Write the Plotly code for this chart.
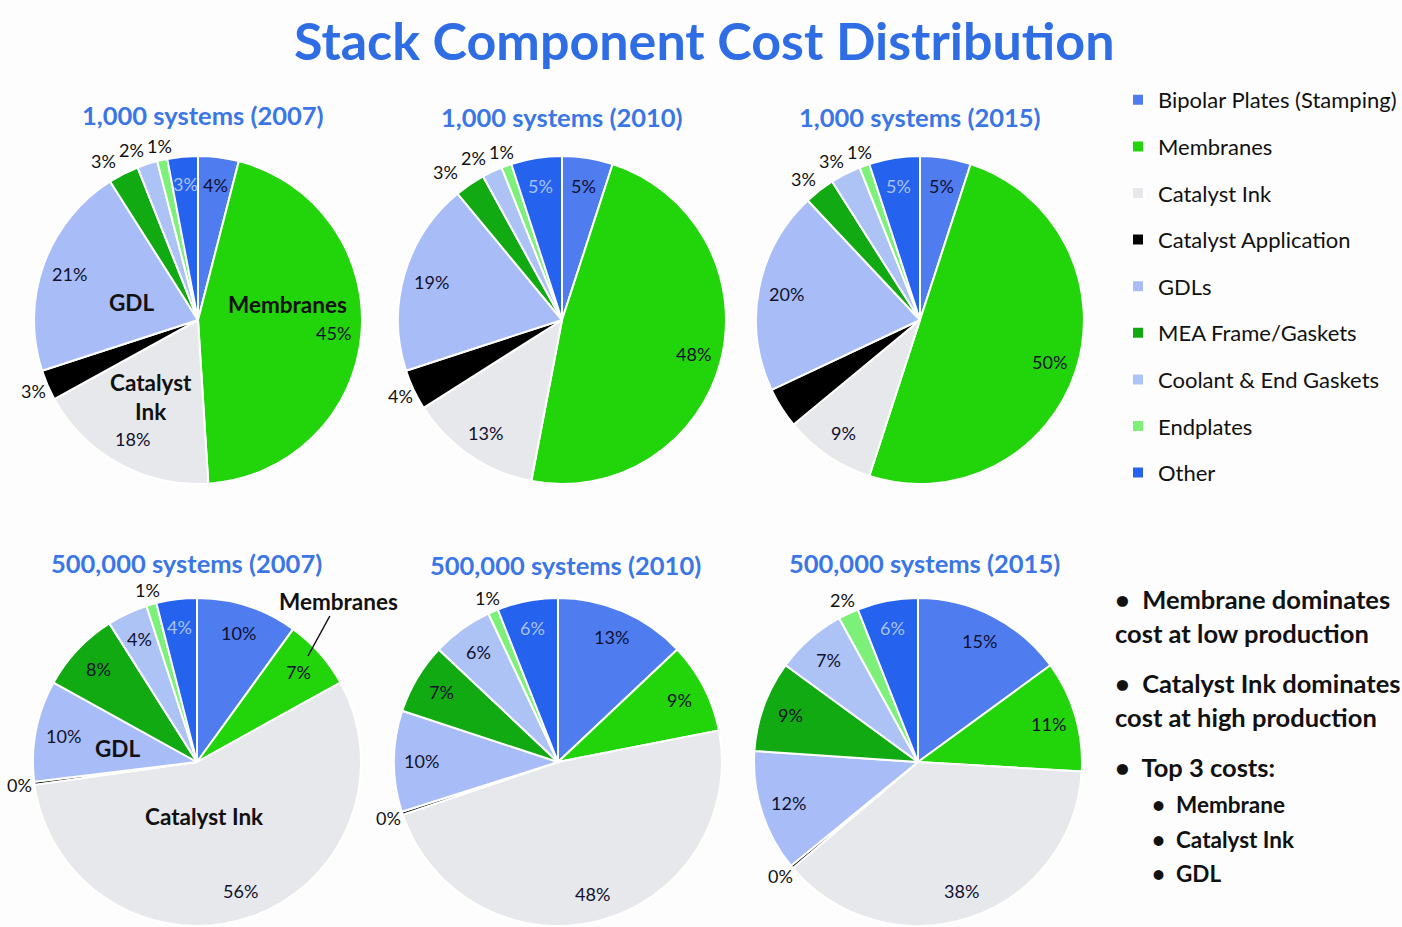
import math
import plotly.graph_objects as go

categories = ["Bipolar Plates (Stamping)", "Membranes", "Catalyst Ink", "Catalyst Application",
              "GDLs", "MEA Frame/Gaskets", "Coolant & End Gaskets", "Endplates", "Other"]
colors = ["#4F7DF0", "#22D40A", "#E6E8EB", "#000000", "#A8BDF7", "#12AA12", "#ADC2F5", "#7DF07A", "#2563EE"]

titles = ["1,000 systems (2007)", "1,000 systems (2010)", "1,000 systems (2015)",
          "500,000 systems (2007)", "500,000 systems (2010)", "500,000 systems (2015)"]

v_1k_2007 = [4, 45, 18, 3, 21, 3, 2, 1, 3]
v_1k_2010 = [5, 48, 13, 4, 19, 3, 2, 1, 5]
v_1k_2015 = [5, 50, 9, 4, 20, 3, 3, 1, 5]
v_500k_2007 = [10, 7, 56, 0.3, 10, 8, 4, 1, 4]
v_500k_2010 = [13, 9, 48, 0.3, 10, 7, 6, 1, 6]
v_500k_2015 = [15, 11, 38, 0.3, 12, 9, 7, 2, 6]
all_values = [v_1k_2007, v_1k_2010, v_1k_2015, v_500k_2007, v_500k_2010, v_500k_2015]

# label placement per slice: "in" = inside near rim, "out" = just outside the rim, "none" = unlabeled
pos_low = ["in", "in", "in", "out", "in", "out", "out", "out", "in"]
pos_low15 = ["in", "in", "in", "none", "in", "out", "out", "out", "in"]
pos_high = ["in", "in", "in", "out", "in", "in", "in", "out", "in"]
all_pos = [pos_low, pos_low, pos_low15, pos_high, pos_high, pos_high]

# layout geometry (pixels): pie centers and radius
W, H = 1402, 927
centers = [(198, 320), (562, 320), (920, 320), (197, 762), (558, 762), (918, 762)]
R = 164
title_pos = [(203, 115), (562, 117), (920, 117), (187, 563), (565, 565), (924, 563)]

FONT = "Lato"
DARK = "#111111"
label_colors = ["#101030"] * 8 + ["#A9C2F7"]
K_IN, K_OUT, MIN_SEP = 0.83, 1.09, 28

fig = go.Figure()
ann = []
for i, vals in enumerate(all_values):
    cx, cy = centers[i]
    fig.add_trace(go.Pie(
        labels=categories, values=vals, sort=False, direction="clockwise", rotation=0,
        marker=dict(colors=colors, line=dict(color="white", width=2)),
        textinfo="none",
        domain=dict(x=[(cx - R) / W, (cx + R) / W], y=[1 - (cy + R) / H, 1 - (cy - R) / H]),
        hoverinfo="label+value", showlegend=True,
    ))
    # value labels at each slice's mid-angle
    total = sum(vals)
    cum = 0.0
    outs = []
    for j, (v, p) in enumerate(zip(vals, all_pos[i])):
        mid = (cum + v / 2) / total * 2 * math.pi
        cum += v
        if p == "none":
            continue
        k = K_IN if p == "in" else K_OUT
        x = cx + k * R * math.sin(mid)
        y = cy - k * R * math.cos(mid)
        item = dict(text=f"{v:.0f}%", x=x, y=y,
                    color=label_colors[j] if p == "in" else DARK)
        if p == "out":
            outs.append(item)
        else:
            ann.append(item)
    # spread neighbouring outside labels apart horizontally (leftwards)
    for a in range(len(outs) - 2, -1, -1):
        nxt = outs[a + 1]
        cur = outs[a]
        if abs(cur["y"] - nxt["y"]) < 20 and cur["x"] > nxt["x"] - MIN_SEP:
            cur["x"] = nxt["x"] - MIN_SEP
    ann.extend(outs)

ann = [dict(text=a["text"], x=a["x"] / W, y=1 - a["y"] / H, xref="paper", yref="paper",
            xanchor="center", yanchor="middle", showarrow=False,
            font=dict(family=FONT, size=18, color=a["color"])) for a in ann]

# invisible padding entry so each legend row is its own group (enables row spacing)
fig.add_trace(go.Pie(labels=[" "], values=[1], legendgroup="pad", sort=False,
                     domain=dict(x=[0, 0.0002], y=[0, 0.0002]),
                     marker=dict(colors=["rgba(0,0,0,0)"], line=dict(width=0)),
                     textinfo="none", hoverinfo="skip"))

ann.append(dict(text="<b>Stack Component Cost Distribution</b>", x=704 / W, y=1 - 40 / H,
                xref="paper", yref="paper", xanchor="center", yanchor="middle", showarrow=False,
                font=dict(family=FONT, size=52, color="#2F6DE4")))
for (tx, ty), t in zip(title_pos, titles):
    ann.append(dict(text=f"<b>{t}</b>", x=tx / W, y=1 - ty / H, xref="paper", yref="paper",
                    xanchor="center", yanchor="middle",
                    showarrow=False, font=dict(family=FONT, size=25.5, color="#3B76E6")))

bold_labels = [("GDL", 131, 302), ("Membranes", 287, 304), ("Catalyst<br>Ink", 151, 397),
               ("GDL", 117, 748), ("Catalyst Ink", 204, 816)]
for t, x, y in bold_labels:
    ann.append(dict(text=f"<b>{t}</b>", x=x / W, y=1 - y / H, xref="paper", yref="paper",
                    xanchor="center", yanchor="middle",
                    showarrow=False, font=dict(family=FONT, size=22.5, color=DARK)))
ann.append(dict(text="<b>Membranes</b>", x=308 / W, y=1 - 656 / H, xref="paper", yref="paper",
                showarrow=True, arrowhead=0, arrowwidth=1.5, arrowcolor=DARK, ax=30, ay=-55,
                font=dict(family=FONT, size=22.5, color=DARK)))

bullets = [("•  Membrane dominates", 1113, 599, 25.5), ("cost at low production", 1113, 633, 25.5),
           ("•  Catalyst Ink dominates", 1113, 683, 25.5), ("cost at high production", 1113, 717, 25.5),
           ("•  Top 3 costs:", 1113, 767, 25.5),
           ("•  Membrane", 1150, 804, 22.5), ("•  Catalyst Ink", 1150, 839, 22.5), ("•  GDL", 1150, 873, 22.5)]
for t, x, y, s in bullets:
    ann.append(dict(text=f"<b>{t}</b>", x=x / W, y=1 - y / H, xref="paper", yref="paper",
                    xanchor="left", yanchor="middle", showarrow=False,
                    font=dict(family=FONT, size=s, color=DARK)))

fig.update_layout(
    width=W, height=H, margin=dict(l=0, r=0, t=0, b=0),
    paper_bgcolor="#FDFDFE", plot_bgcolor="#FDFDFE",
    annotations=ann,
    legend=dict(x=1118 / W, y=1 - 79 / H, xanchor="left", yanchor="top",
                traceorder="grouped", tracegroupgap=15, bgcolor="rgba(0,0,0,0)",
                font=dict(family=FONT, size=22, color=DARK)),
)
fig.write_html("out.html", config={"displayModeBar": False},
               post_script="document.body.style.margin='0';")
